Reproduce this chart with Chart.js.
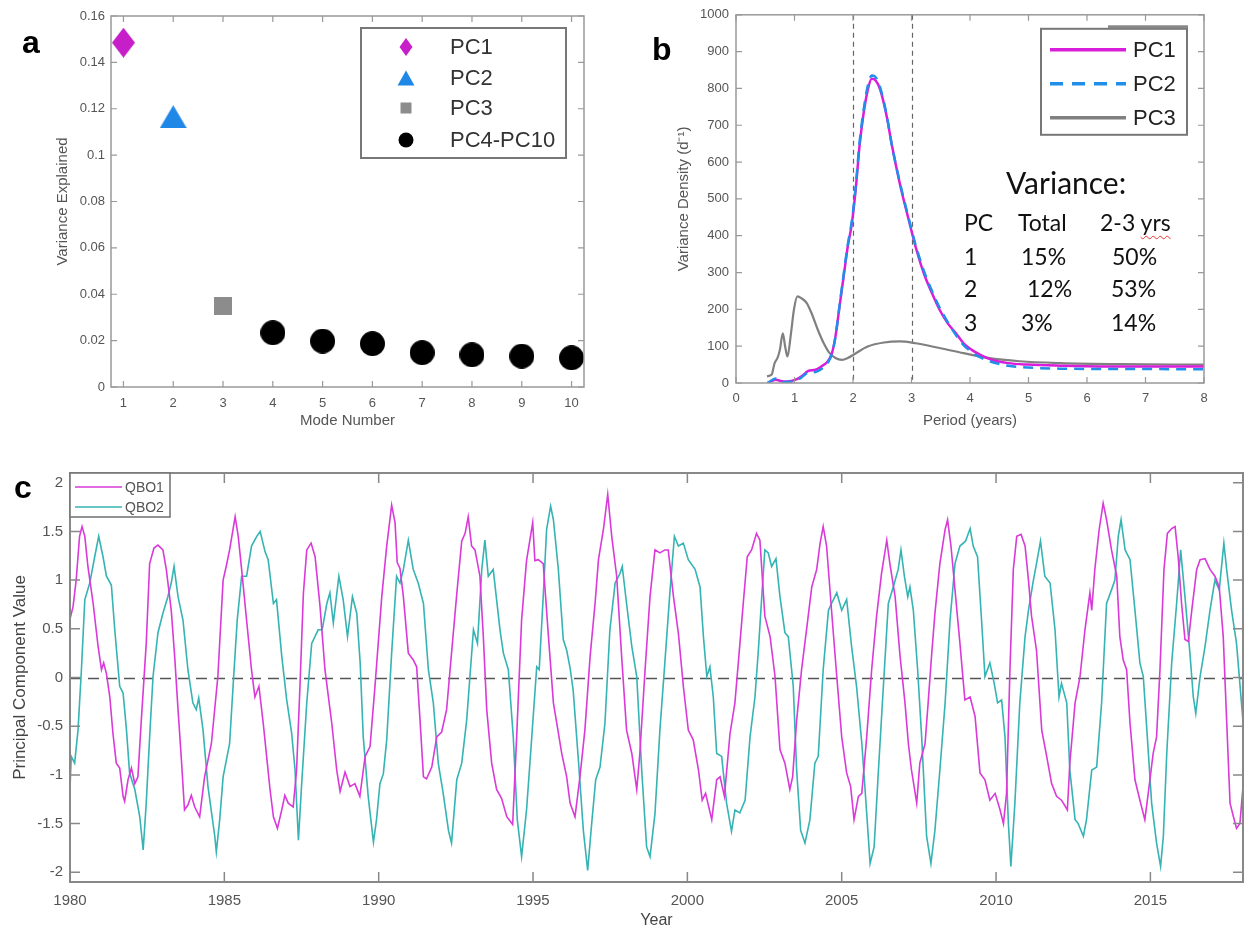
<!DOCTYPE html>
<html><head><meta charset="utf-8">
<script src="https://cdn.jsdelivr.net/npm/chart.js@4.4.1/dist/chart.umd.min.js"></script>
<style>
html,body{margin:0;padding:0;background:#fff;}
body{width:1246px;height:931px;position:relative;overflow:hidden;font-family:"Liberation Sans",Arial,sans-serif;}
canvas{position:absolute;display:block;}
.plabel{position:absolute;font:bold 32px "Liberation Sans",Arial,sans-serif;color:#000;line-height:32px;}
.vt{position:absolute;font-family:Lato,"Open Sans",sans-serif;color:#111;white-space:nowrap;line-height:1;}
</style></head><body>
<canvas id="ca" width="600" height="430" style="left:0;top:0"></canvas>
<canvas id="cb" width="626" height="430" style="left:620px;top:0"></canvas>
<canvas id="cc" width="1246" height="491" style="left:0;top:440px"></canvas>
<div class="plabel" style="left:22px;top:26px">a</div>
<div class="plabel" style="left:652px;top:33px">b</div>
<div class="plabel" style="left:14px;top:471px">c</div>
<div id="vtable"></div>
<script>
// ================= DATA =================
// Panel a: variance explained by mode
const modeNumbers = [1,2,3,4,5,6,7,8,9,10];
const varianceExplained = [0.1485,0.1166,0.0351,0.0234,0.0198,0.0187,0.0148,0.0139,0.0133,0.0126];
const modeTicks = [1,2,3,4,5,6,7,8,9,10];
const varianceTicks = [0,0.02,0.04,0.06,0.08,0.1,0.12,0.14,0.16];

// Panel b: variance density spectra
const periodTicks = [0,1,2,3,4,5,6,7,8];
const densityTicks = [0,100,200,300,400,500,600,700,800,900,1000];
const refPeriods = [2,3];
const pc12Period = [0.54,0.68,0.78,0.88,1.02,1.12,1.23,1.36,1.46,1.57,1.64,1.70,1.77,1.84,1.91,1.98,2.05,2.11,2.18,2.25,2.32,2.39,2.46,2.53,2.59,2.66,2.80,2.94,3.07,3.21,3.35,3.48,3.62,3.76,3.89,4.03,4.17,4.37,4.65,4.99,5.54,6.22,6.90,8.00];
const pc1Density = [0,9,5,4,9,18,32,36,45,59,81,126,208,289,370,433,532,641,731,794,826,821,799,758,713,650,542,451,370,298,244,199,162,135,108,90,77,63,54,50,47,45,45,45];
const pc2Density = [0,12,3,3,6,15,28,30,38,55,80,125,210,295,375,440,540,650,740,805,835,830,805,762,715,650,545,455,375,305,250,205,165,130,103,84,70,57,47,42,39,38,38,37];
const pc3Period = [0.53,0.61,0.66,0.71,0.75,0.80,0.84,0.88,0.94,0.99,1.05,1.12,1.21,1.29,1.40,1.50,1.60,1.70,1.81,1.91,2.05,2.25,2.53,2.80,3.07,3.48,3.89,4.31,4.85,5.54,6.56,8.00];
const pc3Density = [18,23,54,68,90,135,99,72,135,199,235,230,217,190,144,108,81,68,63,68,81,99,110,113,108,95,81,68,59,54,51,50];
const varianceTitle = 'Variance:';
const varianceTable = [['PC','Total','2-3 yrs'],['1','15%','50%'],['2','12%','53%'],['3','3%','14%']];

// Panel c: principal component time series [year, value]
const yearTicks = [1980,1985,1990,1995,2000,2005,2010,2015];
const pcValueTicks = [-2,-1.5,-1,-0.5,0,0.5,1,1.5,2];
const qbo1Series = [
[1980.0,0.60],[1980.1,0.73],[1980.2,1.00],[1980.31,1.45],[1980.39,1.55],[1980.48,1.45],[1980.58,1.14],[1980.75,0.76],[1980.91,0.32],[1981.02,0.08],[1981.09,0.15],[1981.18,0.04],[1981.29,-0.20],[1981.39,-0.57],[1981.5,-0.88],[1981.61,-0.93],[1981.72,-1.22],[1981.77,-1.27],[1981.88,-1.05],[1981.99,-0.93],[1982.1,-1.09],[1982.2,-1.02],[1982.31,-0.44],[1982.47,0.35],[1982.58,1.17],[1982.72,1.33],[1982.85,1.36],[1983.01,1.31],[1983.12,1.11],[1983.28,0.69],[1983.39,0.22],[1983.5,-0.33],[1983.61,-0.85],[1983.71,-1.36],[1983.82,-1.31],[1983.93,-1.21],[1984.04,-1.33],[1984.2,-1.43],[1984.36,-1.02],[1984.58,-0.68],[1984.79,0.01],[1984.96,1.00],[1985.06,1.14],[1985.17,1.31],[1985.35,1.65],
[1985.45,1.45],[1985.56,1.11],[1985.72,0.59],[1985.88,0.08],[1985.99,-0.20],[1986.12,-0.09],[1986.26,-0.47],[1986.37,-0.81],[1986.48,-1.15],[1986.59,-1.43],[1986.72,-1.55],[1986.86,-1.36],[1986.96,-1.21],[1987.07,-1.29],[1987.23,-1.33],[1987.34,-0.95],[1987.45,-0.09],[1987.56,0.86],[1987.67,1.31],[1987.81,1.38],[1987.94,1.24],[1988.1,0.73],[1988.26,0.08],[1988.48,-0.47],[1988.64,-0.95],[1988.75,-1.17],[1988.91,-0.97],[1989.07,-1.12],[1989.23,-1.09],[1989.39,-1.22],[1989.56,-0.81],[1989.72,-0.71],[1989.88,-0.09],[1990.1,0.83],[1990.26,1.35],[1990.42,1.77],[1990.53,1.59],[1990.6,1.18],[1990.69,1.12],[1990.8,0.83],[1990.96,0.25],
[1991.12,0.18],[1991.23,0.11],[1991.34,-0.44],[1991.45,-1.02],[1991.55,-1.04],[1991.72,-0.92],[1991.88,-0.61],[1992.04,-0.56],[1992.2,-0.33],[1992.36,0.25],[1992.53,0.86],[1992.69,1.40],[1992.8,1.48],[1992.9,1.65],[1993.01,1.35],[1993.12,1.31],[1993.28,1.04],[1993.39,0.42],[1993.5,-0.33],[1993.66,-0.88],[1993.82,-1.15],[1993.98,-1.24],[1994.15,-1.43],[1994.34,-1.51],[1994.47,-0.61],[1994.63,0.59],[1994.79,1.20],[1994.99,1.59],[1995.06,1.20],[1995.17,1.21],[1995.33,1.17],[1995.5,0.42],[1995.66,-0.26],[1995.93,-0.78],[1996.09,-1.02],
[1996.2,-1.29],[1996.36,-1.43],[1996.52,-1.02],[1996.68,-0.54],[1996.85,0.22],[1997.01,0.76],[1997.12,1.21],[1997.28,1.52],[1997.42,1.88],[1997.55,1.45],[1997.71,1.04],[1997.87,0.22],[1998.03,-0.54],[1998.2,-0.78],[1998.36,-1.15],[1998.46,-0.78],[1998.63,0.08],[1998.79,0.83],[1998.95,1.31],[1999.11,1.28],[1999.27,1.31],[1999.38,1.31],[1999.55,0.83],[1999.71,0.45],[1999.87,-0.09],[2000.03,-0.54],[2000.19,-0.64],[2000.36,-0.95],[2000.48,-1.26],[2000.59,-1.19],[2000.79,-1.46],[2000.95,-1.05],[2001.06,-1.02],[2001.2,-1.22],[2001.38,-0.58],
[2001.54,-0.26],[2001.65,0.15],[2001.81,0.76],[2001.94,1.24],[2002.08,1.31],[2002.24,1.48],[2002.35,1.41],[2002.51,0.63],[2002.68,0.42],[2002.84,0.01],[2003.0,-0.74],[2003.16,-0.88],[2003.32,-1.15],[2003.41,-1.02],[2003.54,-0.44],[2003.7,0.08],[2003.86,0.49],[2004.03,0.93],[2004.19,1.11],[2004.3,1.38],[2004.4,1.55],[2004.51,1.35],[2004.67,0.69],[2004.84,0.01],[2005.0,-0.61],[2005.16,-0.98],[2005.29,-1.12],[2005.4,-1.46],[2005.54,-1.22],[2005.65,-1.19],[2005.81,-0.61],[2005.97,0.08],[2006.13,0.63],[2006.29,1.07],[2006.46,1.41],[2006.56,1.17],[2006.73,0.83],
[2006.89,0.22],[2007.05,-0.26],[2007.16,-0.68],[2007.26,-0.95],[2007.43,-1.29],[2007.53,-0.88],[2007.7,-0.68],[2007.8,-0.26],[2007.91,0.22],[2008.02,0.66],[2008.18,1.17],[2008.35,1.52],[2008.43,1.62],[2008.54,1.35],[2008.67,0.90],[2008.83,0.35],[2008.99,-0.23],[2009.16,-0.20],[2009.32,-0.40],[2009.48,-0.98],[2009.64,-1.05],[2009.8,-1.26],[2009.97,-1.19],[2010.13,-1.36],[2010.24,-1.50],[2010.34,-1.19],[2010.45,0.08],[2010.56,1.11],[2010.67,1.45],[2010.81,1.47],[2010.94,1.35],[2011.05,1.00],[2011.15,0.63],[2011.31,0.28],[2011.48,-0.54],[2011.64,-0.81],[2011.8,-1.09],[2011.96,-1.22],[2012.12,-1.26],
[2012.18,-1.29],[2012.31,-1.36],[2012.39,-0.88],[2012.56,-0.26],[2012.72,0.01],[2012.88,0.49],[2013.04,0.87],[2013.1,0.69],[2013.2,1.11],[2013.34,1.52],[2013.47,1.79],[2013.58,1.62],[2013.74,1.31],[2013.91,1.04],[2014.01,0.42],[2014.12,0.18],[2014.23,0.08],[2014.34,-0.47],[2014.5,-1.05],[2014.66,-1.26],[2014.82,-1.46],[2014.93,-1.19],[2015.09,-0.78],[2015.2,-0.61],[2015.31,0.08],[2015.44,1.11],[2015.55,1.48],[2015.69,1.53],[2015.8,1.55],[2015.9,1.24],[2016.01,0.76],[2016.12,0.39],[2016.23,0.37],[2016.34,0.69],[2016.5,1.11],[2016.61,1.21],[2016.77,1.22],[2016.93,1.11],[2017.09,1.04],[2017.23,0.93],[2017.36,0.42],[2017.47,-0.44],[2017.58,-1.29],[2017.69,-1.43],[2017.79,-1.55],[2017.9,-1.50],[2018.0,-1.12]
];
const qbo2Series = [
[1980.0,-1.15],[1980.04,-0.81],[1980.15,-0.88],[1980.26,-0.54],[1980.37,0.08],[1980.48,0.80],[1980.64,0.97],[1980.8,1.24],[1980.93,1.45],[1981.07,1.24],[1981.18,1.04],[1981.34,0.95],[1981.45,0.49],[1981.61,-0.09],[1981.72,-0.16],[1981.83,-0.54],[1981.93,-0.98],[1982.1,-1.15],[1982.26,-1.43],[1982.37,-1.77],[1982.47,-1.29],[1982.58,-0.61],[1982.69,0.01],[1982.85,0.46],[1983.01,0.66],[1983.17,0.83],[1983.28,0.97],[1983.37,1.14],[1983.5,0.83],[1983.66,0.59],[1983.82,0.08],[1983.98,-0.26],[1984.09,-0.33],[1984.17,-0.21],[1984.31,-0.54],[1984.47,-1.12],[1984.69,-1.63],[1984.74,-1.79],[1984.85,-1.46],[1984.96,-1.02],[1985.17,-0.68],[1985.3,0.0],[1985.42,0.6],[1985.56,1.04],
[1985.72,1.04],[1985.88,1.35],[1986.05,1.45],[1986.16,1.50],[1986.32,1.29],[1986.42,1.21],[1986.59,0.76],[1986.69,0.80],[1986.86,0.22],[1987.02,-0.23],[1987.18,-0.57],[1987.29,-0.95],[1987.4,-1.67],[1987.5,-1.12],[1987.67,-0.26],[1987.83,0.35],[1988.04,0.49],[1988.17,0.49],[1988.32,0.76],[1988.42,0.87],[1988.53,0.56],[1988.71,1.04],[1988.85,0.80],[1988.99,0.42],[1989.15,0.83],[1989.29,0.66],[1989.4,0.15],[1989.5,-0.61],[1989.66,-1.22],[1989.83,-1.69],[1989.93,-1.46],[1990.04,-1.09],[1990.15,-0.99],[1990.26,-0.64],[1990.42,0.25],[1990.58,1.04],[1990.69,0.97],[1990.8,1.11],[1990.96,1.41],
[1991.12,1.11],[1991.28,0.97],[1991.45,0.76],[1991.61,0.08],[1991.77,-0.26],[1991.93,-0.88],[1992.09,-1.19],[1992.26,-1.57],[1992.36,-1.70],[1992.53,-1.05],[1992.69,-0.88],[1992.85,-0.44],[1993.07,0.49],[1993.2,0.35],[1993.34,1.11],[1993.44,1.41],[1993.55,1.04],[1993.71,1.11],[1993.93,0.49],[1994.04,0.25],[1994.2,0.08],[1994.36,-0.61],[1994.49,-1.46],[1994.63,-1.84],[1994.79,-1.36],[1994.96,-0.61],[1995.12,0.11],[1995.2,0.08],[1995.33,0.83],[1995.44,1.52],[1995.57,1.76],[1995.66,1.62],[1995.82,1.11],[1995.98,0.39],[1996.09,0.28],[1996.2,0.10],
[1996.3,-0.13],[1996.47,-0.85],[1996.63,-1.57],[1996.77,-1.98],[1996.9,-1.50],[1997.03,-1.05],[1997.17,-0.92],[1997.33,-0.47],[1997.49,0.49],[1997.66,0.97],[1997.82,1.07],[1997.89,1.14],[1998.03,0.76],[1998.2,0.32],[1998.36,0.01],[1998.52,-0.95],[1998.68,-1.74],[1998.79,-1.84],[1998.95,-1.40],[1999.11,-0.54],[1999.27,0.15],[1999.44,0.90],[1999.58,1.45],[1999.71,1.35],[1999.87,1.38],[2000.03,1.21],[2000.25,1.11],[2000.41,0.93],[2000.52,0.42],[2000.63,0.01],[2000.73,0.11],[2000.84,-0.20],[2000.95,-0.78],[2001.11,-0.81],[2001.27,-1.29],[2001.43,-1.58],
[2001.54,-1.36],[2001.7,-1.39],[2001.87,-1.26],[2002.03,-0.61],[2002.19,-0.20],[2002.3,0.28],[2002.41,0.83],[2002.51,1.31],[2002.62,1.28],[2002.73,1.14],[2002.87,1.22],[2003.0,0.83],[2003.16,0.46],[2003.27,0.42],[2003.43,-0.09],[2003.54,-0.95],[2003.67,-1.57],[2003.81,-1.70],[2003.97,-1.46],[2004.13,-0.88],[2004.24,-0.81],[2004.4,0.08],[2004.57,0.69],[2004.67,0.76],[2004.84,0.87],[2005.0,0.69],[2005.16,0.80],[2005.32,0.32],[2005.48,-0.09],[2005.65,-0.67],[2005.75,-1.12],[2005.92,-1.91],[2006.05,-1.74],[2006.19,-0.95],[2006.35,-0.09],[2006.51,0.76],[2006.67,0.93],
[2006.83,1.11],[2006.92,1.31],[2007.03,1.04],[2007.14,0.83],[2007.21,0.93],[2007.32,0.69],[2007.46,0.08],[2007.59,-0.61],[2007.75,-1.63],[2007.89,-1.91],[2008.02,-1.57],[2008.18,-0.95],[2008.35,-0.26],[2008.51,0.59],[2008.67,1.17],[2008.83,1.35],[2009.01,1.40],[2009.16,1.53],[2009.26,1.35],[2009.4,1.24],[2009.53,0.59],[2009.64,0.01],[2009.8,0.15],[2009.94,-0.06],[2010.05,-0.26],[2010.18,-0.23],[2010.29,-0.61],[2010.4,-1.50],[2010.48,-1.94],[2010.61,-1.29],[2010.77,-0.26],[2010.94,0.42],[2011.05,0.69],[2011.21,1.00],[2011.31,1.17],[2011.44,1.40],[2011.58,1.04],[2011.75,0.97],[2011.91,0.49],[2012.04,-0.20],[2012.12,-0.06],
[2012.29,-0.26],[2012.39,-0.95],[2012.56,-1.46],[2012.66,-1.50],[2012.83,-1.63],[2012.93,-1.46],[2013.1,-0.95],[2013.26,-0.92],[2013.42,-0.26],[2013.58,0.76],[2013.74,0.90],[2013.85,1.00],[2013.96,1.45],[2014.05,1.62],[2014.18,1.31],[2014.34,1.21],[2014.5,0.69],[2014.66,0.15],[2014.77,0.01],[2014.9,-0.61],[2015.04,-1.29],[2015.2,-1.70],[2015.33,-1.94],[2015.42,-1.63],[2015.53,-0.78],[2015.69,0.15],[2015.85,0.76],[2015.98,1.31],[2016.12,0.83],[2016.28,0.25],[2016.39,-0.20],[2016.47,-0.37],[2016.61,0.01],[2016.77,0.32],[2016.93,0.69],[2017.09,1.00],[2017.23,0.90],[2017.38,1.38],[2017.47,1.11],[2017.63,0.69],[2017.79,0.35],[2017.95,-0.26],[2018.0,-0.45]
];

// ================= HELPERS =================
Chart.defaults.font.family = '"Liberation Sans", Arial, sans-serif';
Chart.defaults.animation = false;
Chart.defaults.events = [];
Chart.defaults.plugins.legend.display = false;
Chart.defaults.plugins.tooltip.enabled = false;

function shapePath(ctx, shape, x, y, w, h) {
  ctx.beginPath();
  if (shape === 'diamond') { ctx.moveTo(x, y-h/2); ctx.lineTo(x+w/2, y); ctx.lineTo(x, y+h/2); ctx.lineTo(x-w/2, y); ctx.closePath(); }
  else if (shape === 'triangle') { ctx.moveTo(x, y-h/2); ctx.lineTo(x+w/2, y+h/2); ctx.lineTo(x-w/2, y+h/2); ctx.closePath(); }
  else if (shape === 'square') { ctx.rect(x-w/2, y-h/2, w, h); }
  else { ctx.arc(x, y, w/2, 0, Math.PI*2); }
}
function markerCanvas(shape, w, h, color) {
  const c = document.createElement('canvas'); c.width = w; c.height = h;
  const g = c.getContext('2d'); g.fillStyle = color; shapePath(g, shape, w/2, h/2, w, h); g.fill(); return c;
}
function fixedTicks(arr) { return s => { s.ticks = arr.map(v => ({value: v})); }; }

const frame = {
  id: 'frame',
  beforeDatasetsDraw(chart, args, o) {
    const {ctx, chartArea: a, scales} = chart;
    ctx.save();
    ctx.beginPath(); ctx.rect(a.left, a.top, a.right-a.left, a.bottom-a.top); ctx.clip();
    ctx.strokeStyle = o.refColor || '#555'; ctx.lineWidth = o.refWidth || 1; ctx.setLineDash(o.refDash || [6,4]);
    (o.hLines || []).forEach(v => { const y = Math.round(scales.y.getPixelForValue(v)) + 0.5; ctx.beginPath(); ctx.moveTo(a.left, y); ctx.lineTo(a.right, y); ctx.stroke(); });
    (o.vLines || []).forEach(v => { const x = Math.round(scales.x.getPixelForValue(v)) + 0.5; ctx.beginPath(); ctx.moveTo(x, a.top); ctx.lineTo(x, a.bottom); ctx.stroke(); });
    ctx.restore();
  },
  afterDatasetsDraw(chart, args, o) {
    const {ctx, chartArea: a, scales} = chart;
    const L = o.tickLen || 6;
    ctx.save();
    ctx.strokeStyle = o.color || '#999'; ctx.lineWidth = o.width || 1.5; ctx.setLineDash([]);
    ctx.strokeRect(a.left, a.top, a.right-a.left, a.bottom-a.top);
    ctx.lineWidth = o.tickWidth || 1.2;
    scales.x.ticks.forEach(t => { const x = scales.x.getPixelForValue(t.value);
      ctx.beginPath(); ctx.moveTo(x, a.bottom); ctx.lineTo(x, a.bottom-L); ctx.moveTo(x, a.top); ctx.lineTo(x, a.top+L); ctx.stroke(); });
    scales.y.ticks.forEach(t => { const y = scales.y.getPixelForValue(t.value);
      ctx.beginPath(); ctx.moveTo(a.left, y); ctx.lineTo(a.left+L, y); ctx.moveTo(a.right, y); ctx.lineTo(a.right-L, y); ctx.stroke(); });
    ctx.restore();
  },
  afterDraw(chart, args, o) {
    const lg = o.legend; if (!lg) return;
    const {ctx, chartArea: a} = chart;
    const bx = lg.anchor === 'left' ? a.left + lg.dx : a.right - lg.dx - lg.w;
    const by = a.top + lg.dy;
    ctx.save();
    ctx.fillStyle = '#fff'; ctx.fillRect(bx, by, lg.w, lg.h);
    ctx.strokeStyle = lg.border; ctx.lineWidth = lg.borderWidth; ctx.strokeRect(bx, by, lg.w, lg.h);
    if (lg.topBar) { ctx.strokeStyle = lg.topBar.color; ctx.lineWidth = lg.topBar.width; ctx.beginPath(); ctx.moveTo(bx + lg.topBar.from, by - lg.topBar.dy); ctx.lineTo(bx + lg.w + 1, by - lg.topBar.dy); ctx.stroke(); }
    ctx.font = lg.font; ctx.textBaseline = 'middle'; ctx.textAlign = 'left';
    chart.data.datasets.forEach((ds, i) => {
      const y = by + lg.rows[i];
      const m = ds.legendMarker;
      if (m) {
        ctx.fillStyle = ds.backgroundColor; shapePath(ctx, m.shape, bx + lg.markerX, y, m.w, m.h); ctx.fill();
      } else {
        ctx.strokeStyle = ds.borderColor; ctx.lineWidth = lg.lineWidth; ctx.setLineDash(ds.legendDash || []);
        ctx.beginPath(); ctx.moveTo(bx + lg.lineFrom, y); ctx.lineTo(bx + lg.lineTo, y); ctx.stroke(); ctx.setLineDash([]);
      }
      ctx.fillStyle = lg.textColor; ctx.fillText(ds.label, bx + lg.textX, y + 1);
    });
    ctx.restore();
  }
};
Chart.register(frame);

function axisFont(size) { return {size: size, family: '"Liberation Sans", Arial, sans-serif'}; }

// ================= PANEL A =================
const colA = ['#c61ec8', '#1f87e6', '#8c8c8c', '#000000'];
new Chart(document.getElementById('ca'), {
  type: 'scatter',
  data: { datasets: [
    { label: 'PC1', data: [{x: modeNumbers[0], y: varianceExplained[0]}], backgroundColor: colA[0], pointStyle: markerCanvas('diamond', 23, 30, colA[0]), legendMarker: {shape:'diamond', w:13, h:18}, clip: false },
    { label: 'PC2', data: [{x: modeNumbers[1], y: varianceExplained[1]}], backgroundColor: colA[1], pointStyle: markerCanvas('triangle', 27, 23, colA[1]), legendMarker: {shape:'triangle', w:17, h:15}, clip: false },
    { label: 'PC3', data: [{x: modeNumbers[2], y: varianceExplained[2]}], backgroundColor: colA[2], pointStyle: markerCanvas('square', 18, 18, colA[2]), legendMarker: {shape:'square', w:11, h:11}, clip: false },
    { label: 'PC4-PC10', data: modeNumbers.slice(3).map((m, i) => ({x: m, y: varianceExplained[i+3]})), backgroundColor: colA[3], pointStyle: markerCanvas('circle', 25, 25, colA[3]), legendMarker: {shape:'circle', w:15, h:15}, clip: false }
  ]},
  options: {
    responsive: false,
    layout: { padding: {left: 0, top: 16, right: 16, bottom: 0} },
    scales: {
      x: { type: 'linear', min: 0.75, max: 10.25, afterBuildTicks: fixedTicks(modeTicks), afterFit: s => { s.height = 43; },
           grid: {display: false, drawTicks: false}, border: {display: false},
           ticks: {autoSkip: false, maxRotation: 0, padding: 9, color: '#555', font: axisFont(13), callback: v => String(v)},
           title: {display: true, text: 'Mode Number', color: '#555', font: axisFont(15), padding: {top: 0, bottom: 0}} },
      y: { min: 0, max: 0.16, afterBuildTicks: fixedTicks(varianceTicks), afterFit: s => { s.width = 111; },
           grid: {display: false, drawTicks: false}, border: {display: false},
           ticks: {autoSkip: false, padding: 6, color: '#555', font: axisFont(13), callback: v => String(v)},
           title: {display: true, text: 'Variance Explained', color: '#555', font: axisFont(15), padding: {top: 54, bottom: 0}} }
    },
    plugins: { frame: { color: '#999', width: 1.5, tickLen: 6,
      legend: { anchor: 'right', dx: 18, dy: 12, w: 205, h: 130, border: '#777', borderWidth: 2,
        rows: [19, 50, 80, 112], markerX: 45, textX: 89, font: '22px "Liberation Sans", Arial, sans-serif', textColor: '#333' } } }
  }
});

// ================= PANEL B =================
const colB = ['#d81ed8', '#1f8fea', '#808080'];
new Chart(document.getElementById('cb'), {
  type: 'line',
  data: { datasets: [
    { label: 'PC1', data: pc12Period.map((p, i) => ({x: p, y: pc1Density[i]})), borderColor: colB[0], borderWidth: 2.5, pointRadius: 0, cubicInterpolationMode: 'monotone', order: 2 },
    { label: 'PC2', data: pc12Period.map((p, i) => ({x: p, y: pc2Density[i]})), borderColor: colB[1], borderWidth: 2.5, borderDash: [10, 7], legendDash: [13, 9], pointRadius: 0, cubicInterpolationMode: 'monotone', order: 1 },
    { label: 'PC3', data: pc3Period.map((p, i) => ({x: p, y: pc3Density[i]})), borderColor: colB[2], borderWidth: 2.2, pointRadius: 0, cubicInterpolationMode: 'monotone', order: 3 }
  ]},
  options: {
    responsive: false,
    layout: { padding: {left: 0, top: 14, right: 42, bottom: 0} },
    scales: {
      x: { type: 'linear', min: 0, max: 8, afterBuildTicks: fixedTicks(periodTicks), afterFit: s => { s.height = 47; },
           grid: {display: false, drawTicks: false}, border: {display: false},
           ticks: {autoSkip: false, maxRotation: 0, padding: 8, color: '#555', font: axisFont(13), callback: v => String(v)},
           title: {display: true, text: 'Period (years)', color: '#555', font: axisFont(15), padding: {top: 0, bottom: 0}} },
      y: { type: 'linear', min: 0, max: 1000, afterBuildTicks: fixedTicks(densityTicks), afterFit: s => { s.width = 116; },
           grid: {display: false, drawTicks: false}, border: {display: false},
           ticks: {autoSkip: false, padding: 7, color: '#555', font: axisFont(13), callback: v => String(v)},
           title: {display: true, text: 'Variance Density (d\u207B\u00B9)', color: '#555', font: axisFont(15), padding: {top: 55, bottom: 0}} }
    },
    plugins: { frame: { color: '#999', width: 1.5, tickLen: 6, vLines: refPeriods, refColor: '#666', refWidth: 1.2, refDash: [5, 4],
      legend: { anchor: 'right', dx: 17, dy: 14, w: 146, h: 106, border: '#777', borderWidth: 2,
        topBar: {color: '#888', width: 3, dy: 2, from: 67},
        rows: [21, 55, 89], lineFrom: 9, lineTo: 85, lineWidth: 3.5, textX: 92, font: '22px "Liberation Sans", Arial, sans-serif', textColor: '#222' } } }
  }
});

// Variance table (HTML text)
(function () {
  const host = document.getElementById('vtable');
  const t = document.createElement('div'); t.className = 'vt'; t.textContent = varianceTitle;
  t.style.cssText = 'left:1006px;top:167px;font-size:30px;'; host.appendChild(t);
  const colLeft = [[964,1018,1100],[964,1021,1112],[964,1027,1111],[964,1021,1111]];
  const rowTop = [211, 245, 277, 311];
  varianceTable.forEach((row, r) => row.forEach((cell, c) => {
    const d = document.createElement('div'); d.className = 'vt';
    d.style.cssText = 'left:' + colLeft[r][c] + 'px;top:' + rowTop[r] + 'px;font-size:23px;';
    if (r === 0 && c === 2) {
      const parts = cell.split(' ');
      d.textContent = parts[0] + ' ';
      const u = document.createElement('span'); u.textContent = parts[1];
      u.style.cssText = 'text-decoration:underline wavy #e33;text-decoration-thickness:1px;text-underline-offset:4px;';
      d.appendChild(u);
    } else d.textContent = cell;
    host.appendChild(d);
  }));
})();

// ================= PANEL C =================
const colC = ['#d93ad9', '#36b3b3'];
new Chart(document.getElementById('cc'), {
  type: 'line',
  data: { datasets: [
    { label: 'QBO1', data: qbo1Series.map(p => ({x: p[0], y: p[1]})), borderColor: colC[0], borderWidth: 1.6, pointRadius: 0, tension: 0 },
    { label: 'QBO2', data: qbo2Series.map(p => ({x: p[0], y: p[1]})), borderColor: colC[1], borderWidth: 1.6, pointRadius: 0, tension: 0 }
  ]},
  options: {
    responsive: false,
    layout: { padding: {left: 0, top: 33, right: 3, bottom: 0} },
    scales: {
      x: { type: 'linear', min: 1980, max: 2018, afterBuildTicks: fixedTicks(yearTicks), afterFit: s => { s.height = 49; },
           grid: {display: false, drawTicks: false}, border: {display: false},
           ticks: {autoSkip: false, maxRotation: 0, padding: 10, color: '#555', font: axisFont(15), callback: v => String(v)},
           title: {display: true, text: 'Year', color: '#444', font: axisFont(16), padding: {top: 0, bottom: 1}} },
      y: { type: 'linear', min: -2.1, max: 2.1, afterBuildTicks: fixedTicks(pcValueTicks), afterFit: s => { s.width = 70; },
           grid: {display: false, drawTicks: false}, border: {display: false},
           ticks: {autoSkip: false, padding: 7, color: '#555', font: axisFont(15), callback: v => String(v)},
           title: {display: true, text: 'Principal Component Value', color: '#444', font: axisFont(17), padding: {top: 10, bottom: 0}} }
    },
    plugins: { frame: { color: '#888', width: 2, tickLen: 10, tickWidth: 1.5, hLines: [0], refColor: '#555', refWidth: 1.6, refDash: [11, 7],
      legend: { anchor: 'left', dx: 0, dy: 0, w: 100, h: 44, border: '#777', borderWidth: 1.6,
        rows: [14, 34], lineFrom: 5, lineTo: 52, lineWidth: 1.6, textX: 55, font: '14px "Liberation Sans", Arial, sans-serif', textColor: '#555' } } }
  }
});
</script>
</body></html>
